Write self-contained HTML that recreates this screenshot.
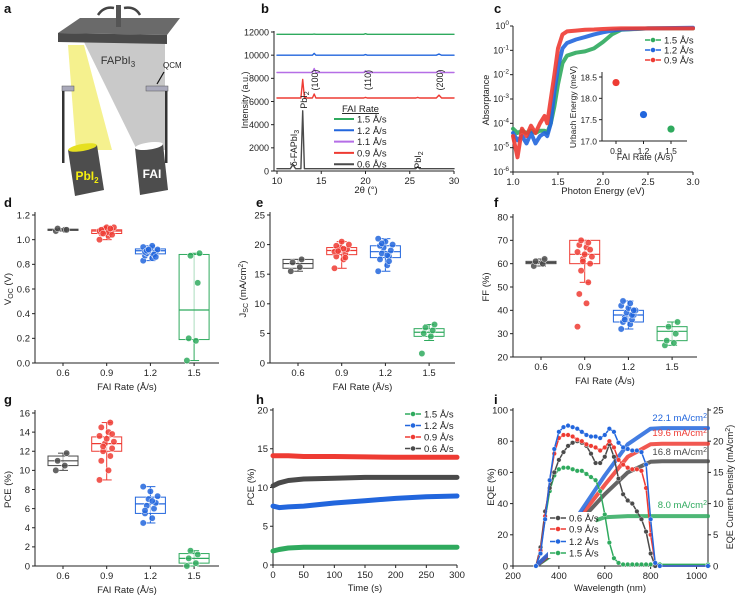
<!DOCTYPE html>
<html><head><meta charset="utf-8"><style>
body{margin:0;background:#fff}
svg{display:block;font-family:"Liberation Sans",sans-serif}
</style></head><body>
<svg id="fig" width="738" height="597" viewBox="0 0 738 597" xmlns="http://www.w3.org/2000/svg">
<g id="panelA">
<polygon points="68,45 84,45 112,150 76,150" fill="#f3ee7a" opacity="0.85"/>
<polygon points="84,42 165,42 165,150 137,150" fill="#bcbcbc" opacity="0.8"/>
<polygon points="80,18 180,18 167,35 58,33" fill="#6a6a6a"/>
<polygon points="58,33 167,35 167,44 58,42" fill="#4a4a4a"/>
<rect x="116" y="5" width="5" height="22" fill="#555"/>
<path d="M98,15 Q104,6 114,8" fill="none" stroke="#444" stroke-width="2.5"/>
<path d="M124,8 Q135,6 140,15" fill="none" stroke="#444" stroke-width="2.5"/>
<text x="118" y="64" font-size="11" text-anchor="middle" fill="#333">FAPbI<tspan font-size="8" dy="3">3</tspan></text>
<text x="163" y="68" font-size="8" fill="#222">QCM</text>
<line x1="164" y1="72" x2="157" y2="84" stroke="#111" stroke-width="1.2"/>
<rect x="62" y="86" width="12" height="5" fill="#aab" stroke="#555" stroke-width="0.5"/>
<rect x="62" y="91" width="2.5" height="72" fill="#333"/>
<rect x="146" y="86" width="22" height="5" fill="#aab" stroke="#555" stroke-width="0.5"/>
<rect x="165" y="91" width="2.5" height="72" fill="#333"/>
<polygon points="68,150 97,145 104,190 75,196" fill="#4d4d4d"/>
<ellipse cx="82.5" cy="147.5" rx="14.5" ry="3.5" fill="#e6e020" transform="rotate(-10 82.5 147.5)"/>
<text x="87" y="180" font-size="12" font-weight="bold" fill="#f5ee10" text-anchor="middle">PbI<tspan font-size="8" dy="3">2</tspan></text>
<polygon points="135,148 163,144 168,190 140,195" fill="#4d4d4d"/>
<ellipse cx="149" cy="146" rx="14" ry="3.5" fill="#fff" transform="rotate(-8 149 146)"/>
<text x="152" y="178" font-size="12" font-weight="bold" fill="#fff" text-anchor="middle">FAI</text>
</g>
</svg>
<script>
const SVG='http://www.w3.org/2000/svg';
const fig=document.getElementById('fig');
function mk(tag,attrs,parent){const e=document.createElementNS(SVG,tag);for(const k in attrs)e.setAttribute(k,attrs[k]);(parent||fig).appendChild(e);return e;}
function lin(d0,d1,r0,r1){return v=>r0+(v-d0)*(r1-r0)/(d1-d0);}
function logs(d0,d1,r0,r1){return v=>r0+(Math.log10(v)-d0)*(r1-r0)/(d1-d0);}
function txt(x,y,s,size,anchor,fill,rot,parent){const t=mk('text',{x:x,y:y,'font-size':size||9.5,'text-anchor':anchor||'middle',fill:fill||'#222'},parent);if(rot)t.setAttribute('transform','rotate(-90 '+x+' '+y+')');t.innerHTML=s;return t;}

/* ===== DATA ===== */
const C={k:'#4a4a4a',r:'#ee3b33',b:'#2266dd',g:'#2faa5e',p:'#b56ee6'};
// b: XRD
const xrdX=[10,11.5,11.8,12.1,12.7,12.9,13.1,13.4,14.0,14.2,14.4,19.8,20.0,20.2,25.7,25.9,26.1,28.0,28.3,28.6,30];
const xrdK=[200,200,550,200,200,5200,200,200,200,200,200,200,200,200,200,380,200,200,200,200,200];
const xrdR=[6300,6300,6300,6300,6300,7900,6350,6300,6300,6650,6300,6300,6350,6300,6300,6350,6300,6300,6550,6300,6300];
const xrdP=[8500,8500,8500,8500,8500,8500,8500,8500,8500,8850,8500,8500,8650,8500,8500,8500,8500,8500,8650,8500,8500];
const xrdB=[10000,10000,10000,10000,10000,10000,10000,10000,10000,10150,10000,10000,10050,10000,10000,10000,10000,10000,10100,10000,10000];
const xrdG=[11800,11800,11800,11800,11800,11800,11800,11800,11800,11820,11800,11800,11850,11800,11800,11800,11800,11800,11800,11800,11800];
const xrdYTicks=[0,2000,4000,6000,8000,10000,12000];
const xrdXTicks=[10,15,20,25,30];
// c: absorptance
const absX=[1.0,1.05,1.1,1.15,1.2,1.25,1.3,1.35,1.38,1.42,1.46,1.5,1.55,1.6,1.7,1.8,1.9,2.0,2.1,2.2,2.5,3.0];
const absR=[3e-5,4e-6,6e-5,3e-5,8e-5,4e-5,1e-4,2e-4,1e-4,1e-3,1e-2,0.12,0.45,0.6,0.65,0.7,0.72,0.75,0.78,0.8,0.8,0.8];
const absB=[4e-5,2e-5,3e-5,1.5e-5,4e-5,1.5e-5,3e-5,4e-5,3e-5,1e-4,2e-3,2e-2,0.12,0.2,0.28,0.35,0.45,0.55,0.65,0.72,0.8,0.85];
const absG=[6e-5,4e-5,5e-5,4e-5,5e-5,4e-5,5e-5,5e-5,4e-5,1e-4,5e-4,4e-3,0.03,0.06,0.08,0.09,0.12,0.22,0.45,0.7,0.8,0.8];
const absYTicks=[0,-1,-2,-3,-4,-5,-6];
const absXTicks=[1.0,1.5,2.0,2.5,3.0];
const urbRate=[0.9,1.2,1.5];
const urbE=[18.37,17.62,17.28];
// d-g box plots
const rates=['0.6','0.9','1.2','1.5'];
const vocPts=[[1.07,1.08,1.09,1.08],[1.0,1.03,1.05,1.06,1.07,1.08,1.09,1.1,1.1,1.07,1.06,1.08,1.09,1.05,1.04],[0.83,0.85,0.87,0.88,0.89,0.9,0.91,0.92,0.93,0.94,0.95,0.9,0.88,0.91,0.86,0.92],[0.02,0.18,0.2,0.65,0.87,0.89]];
const vocQ1=[1.075,1.05,0.885,0.19],vocMed=[1.08,1.07,0.91,0.43],vocQ3=[1.085,1.08,0.925,0.88],vocLo=[1.07,1.0,0.83,0.02],vocHi=[1.09,1.1,0.95,0.89];
const jscPts=[[15.5,16.2,17,17.5],[16,17.5,18,18.5,19,19.2,19.5,20,20.5,18.8,19.3,19.8,17.8,18.9],[15.5,16.5,17.5,18,18.5,19,19.5,20,20.5,21,18.2,19.8,17.2,20.2],[1.6,4.5,5,5.5,6,6.5]];
const jscQ1=[16,18.3,17.8,4.5],jscMed=[16.8,19,18.8,5.2],jscQ3=[17.5,19.5,19.8,5.8],jscLo=[15.5,16,15.5,3.8],jscHi=[17.5,20.5,21,6.5];
const ffPts=[[59,60,61,62],[33,43,47,52,57,60,62,63,64,65,67,68,69,70,66,61],[32,34,35,36,37,38,39,40,41,42,43,44,38,36,40],[25,26,27,30,33,35]];
const ffQ1=[60,60,35,27],ffMed=[60.5,64,38,31],ffQ3=[61,70,40,33],ffLo=[59,52,32,25],ffHi=[62,70,44,35];
const pcePts=[[10,10.5,11,11.8],[9,10,11,11.5,12,12.3,12.8,13,13.3,13.6,14,14.5,15,12.5,13.8],[4.5,5,5.5,6,6.3,6.6,7,7.3,7.8,8.3,6.8,5.8],[0,0.3,0.8,1.2,1.6]];
const pceQ1=[10.5,12,5.5,0.3],pceMed=[11,12.8,6.5,0.8],pceQ3=[11.5,13.5,7.2,1.3],pceLo=[10,9,4.5,0],pceHi=[11.8,15,8.3,1.6];
// h: PCE vs time
const tT=[0,10,25,50,100,150,200,250,300];
const tG=[1.8,2.0,2.2,2.3,2.3,2.3,2.3,2.3,2.3];
const tB=[7.6,7.4,7.5,7.6,8.0,8.3,8.6,8.8,8.9];
const tR=[14.1,14.1,14.1,14.0,14.0,13.95,13.9,13.9,13.9];
const tK=[10.2,10.6,10.9,11.1,11.2,11.3,11.3,11.3,11.3];
// i: EQE
const wl=[300,320,340,360,380,400,420,440,460,480,500,520,540,560,580,600,620,640,660,680,700,720,740,760,780,800,820,840,1050];
const eqeB=[0,8,30,55,75,86,89,90,89,88,86,84,83,83,82,84,88,86,79,76,75,74,74,73,65,30,2,0,0];
const eqeR=[0,10,32,55,72,82,84,84,83,81,80,78,77,76,74,76,80,76,68,65,63,62,62,61,50,20,2,0,0];
const eqeK=[0,12,35,50,60,68,73,77,79,80,79,77,72,66,66,70,78,70,56,46,42,40,35,30,22,8,0,0,0];
const eqeG=[0,10,30,48,58,62,63,63,62,61,61,59,57,55,48,33,15,5,2,1,1,1,1,1,1,1,1,1,1];
const jW=[300,400,500,600,700,800,850,1050];
const jB=[0,3.5,9,14.5,19.5,22,22.1,22.1];
const jR=[0,3.2,8.2,13,17.5,19.5,19.6,19.6];
const jK=[0,2.8,7.5,11.5,15,16.7,16.8,16.8];
const jG=[0,2.5,6.5,7.8,8,8,8,8];
const jLabels=['22.1','19.6','16.8','8.0'];

/* ===== helpers ===== */
function axes(x0,x1,y0,y1,name){const g=mk('g',{});


mk('path',{d:'M'+x0+','+y0+'V'+y1+'H'+x1,fill:'none',stroke:'#222','stroke-width':1},g);return g;}
function yT(g,x0,vals,sc,labels,size){vals.forEach((v,i)=>{const y=sc(v);mk('line',{x1:x0-3,x2:x0,y1:y,y2:y,stroke:'#222'},g);const t=txt(x0-5,y+3.3,labels?labels[i]:v,size||9.5,'end','#222',0,g);

});}
function xT(g,y0,vals,sc,labels,size){vals.forEach((v,i)=>{const x=sc(v);mk('line',{x1:x,x2:x,y1:y0,y2:y0+3,stroke:'#222'},g);const t=txt(x,y0+13,labels?labels[i]:v,size||9.5,'middle','#222',0,g);

});}
function line(xs,ys,sx,sy,col,w,name,op){const d=xs.map((x,i)=>(i?'L':'M')+sx(x).toFixed(1)+','+sy(ys[i]).toFixed(1)).join('');const p=mk('path',{d:d,fill:'none',stroke:col,'stroke-width':w,'stroke-linejoin':'round','stroke-linecap':'round',opacity:op||1});

return p;}
function letter(x,y,s){const t=txt(x,y,s,13,'start','#111');t.setAttribute('font-weight','bold');

}
function legendEntry(x,y,col,label,name){const g=mk('g',{});


mk('line',{x1:x,x2:x+16,y1:y,y2:y,stroke:col,'stroke-width':1.5},g);mk('circle',{cx:x+8,cy:y,r:2.6,fill:col,stroke:'#fff','stroke-width':0.6},g);txt(x+19,y+3.5,label,9.5,'start','#222',0,g);}

/* ===== panel letters ===== */
letter(4,13,'a');letter(261,13,'b');letter(494,13,'c');letter(4,207,'d');letter(256,207,'e');letter(494,207,'f');letter(4,404,'g');letter(256,404,'h');letter(494,404,'i');

/* ===== b ===== */
{const sx=lin(10,30,277,454),sy=lin(0,12000,171,32);const g=axes(274,454,31,171,'panel-b-axes');
yT(g,274,xrdYTicks,sy,null,9);xT(g,171,xrdXTicks,sx);
txt(366,193,'2θ (°)',9.5,'middle','#222',0,g);txt(248,100,'Intensity (a.u.)',9,'middle','#222',1,g);
line(xrdX,xrdG,sx,sy,C.g,1.4,'xrd-1.5');line(xrdX,xrdB,sx,sy,C.b,1.4,'xrd-1.2');line(xrdX,xrdP,sx,sy,C.p,1.4,'xrd-1.1');line(xrdX,xrdR,sx,sy,C.r,1.4,'xrd-0.9');line(xrdX,xrdK,sx,sy,C.k,1.4,'xrd-0.6');
txt(318,80,'(100)',9,'middle','#222',1);txt(371,80,'(110)',9,'middle','#222',1);txt(443,80,'(200)',9,'middle','#222',1);
txt(307,100,'PbI<tspan font-size="7" dy="2">2</tspan>',9,'middle','#222',1);
txt(297,148,'δ-FAPbI<tspan font-size="7" dy="2">3</tspan>',9,'middle','#222',1);
txt(421,160,'PbI<tspan font-size="7" dy="2">2</tspan>',9,'middle','#222',1);
const lt=txt(342,112,'FAI Rate',9.5,'start','#222');lt.setAttribute('text-decoration','underline');
[['1.5 Å/s',C.g],['1.2 Å/s',C.b],['1.1 Å/s',C.p],['0.9 Å/s',C.r],['0.6 Å/s',C.k]].forEach((e,i)=>{const y=119+i*11.3;const gg=mk('g',{});


mk('line',{x1:334,x2:354,y1:y,y2:y,stroke:e[1],'stroke-width':2},gg);txt(357,y+3.5,e[0],9.5,'start','#222',0,gg);});}

/* ===== c ===== */
{const sx=lin(1,3,513,693),sy=logs(0,-6,26,172);const g=axes(513,693,26,172,'panel-c-axes');
absYTicks.forEach(v=>{const y=sy(Math.pow(10,v));mk('line',{x1:510,x2:513,y1:y,y2:y,stroke:'#222'},g);txt(509,y+3,'10<tspan font-size="6.5" dy="-4">'+v+'</tspan>',9,'end','#222',0,g);});
xT(g,172,absXTicks,sx,['1.0','1.5','2.0','2.5','3.0']);
txt(603,194,'Photon Energy (eV)',9.5,'middle','#222',0,g);txt(489,100,'Absorptance',9,'middle','#222',1,g);
line(absX,absG,sx,sy,C.g,4,'abs-1.5',0.9);line(absX,absB,sx,sy,C.b,4,'abs-1.2',0.9);line(absX,absR,sx,sy,C.r,4,'abs-0.9',0.9);
legendEntry(645,40,C.g,'1.5 Å/s','legend-c-1.5');legendEntry(645,50,C.b,'1.2 Å/s','legend-c-1.2');legendEntry(645,60,C.r,'0.9 Å/s','legend-c-0.9');
const ix=lin(0.9,1.5,616,671),iy=lin(17,18.5,141,77);const ig=mk('g',{});


mk('rect',{x:568,y:70,width:121,height:95,fill:'#fff'},ig);
mk('path',{d:'M602,72V141H687',fill:'none',stroke:'#222'},ig);
yT(ig,602,[17,17.5,18,18.5],iy,['17.0','17.5','18.0','18.5'],8.5);xT(ig,141,urbRate,ix,['0.9','1.2','1.5'],8.5);
txt(645,160,'FAI Rate (Å/s)',9,'middle','#222',0,ig);txt(576,107,'Urbach Energy (meV)',8.5,'middle','#222',1,ig);
const uc=[C.r,C.b,C.g];urbRate.forEach((r,i)=>{const c=mk('circle',{cx:ix(r),cy:iy(urbE[i]),r:3.6,fill:uc[i]},ig);

});}

/* ===== box plots ===== */
const cols=[C.k,C.r,C.b,C.g];
function boxPanel(x0,x1,yTop,yBot,d0,d1,ticks,tickLab,pts,q1,med,q3,lo,hi,ylab,name){
const sy=lin(d0,d1,yBot,yTop);const g=axes(x0,x1,yTop-3,yBot,name);
yT(g,x0,ticks,sy,tickLab);
const cx=i=>x0+28+i*43.7;
rates.forEach((r,i)=>{const x=cx(i);mk('line',{x1:x,x2:x,y1:yBot,y2:yBot+3,stroke:'#222'},g);txt(x,yBot+13,r,9.5,'middle','#222',0,g);});
txt((x0+x1)/2,yBot+27,'FAI Rate (Å/s)',9.5,'middle','#222',0,g);
txt(x0-24,(yTop+yBot)/2,ylab,9.5,'middle','#222',1,g);
rates.forEach((r,i)=>{const x=cx(i),c=cols[i];const bg=mk('g',{});


mk('line',{x1:x,x2:x,y1:sy(lo[i]),y2:sy(hi[i]),stroke:c,'stroke-width':1},bg);
mk('line',{x1:x-5,x2:x+5,y1:sy(lo[i]),y2:sy(lo[i]),stroke:c},bg);mk('line',{x1:x-5,x2:x+5,y1:sy(hi[i]),y2:sy(hi[i]),stroke:c},bg);
mk('rect',{x:x-15,y:sy(q3[i]),width:30,height:Math.max(1,sy(q1[i])-sy(q3[i])),fill:'#fff','fill-opacity':0.6,stroke:c,'stroke-width':1},bg);
mk('line',{x1:x-15,x2:x+15,y1:sy(med[i]),y2:sy(med[i]),stroke:c,'stroke-width':1.2},bg);
pts[i].forEach((v,j)=>{const dx=((j*5)%9-4)*1.8;const p=mk('circle',{cx:x+dx,cy:sy(v),r:3.2,fill:c,'fill-opacity':0.85,stroke:'#fff','stroke-width':0.5},bg);

});});}
boxPanel(35,219,215,363,0,1.2,[0,0.2,0.4,0.6,0.8,1.0,1.2],['0.0','0.2','0.4','0.6','0.8','1.0','1.2'],vocPts,vocQ1,vocMed,vocQ3,vocLo,vocHi,'V<tspan font-size="7" dy="2">OC</tspan><tspan dy="-2"> (V)</tspan>','panel-d-voc');
boxPanel(270,455,215,363,0,25,[0,5,10,15,20,25],null,jscPts,jscQ1,jscMed,jscQ3,jscLo,jscHi,'J<tspan font-size="7" dy="2">SC</tspan><tspan dy="-2"> (mA/cm</tspan><tspan font-size="7" dy="-3">2</tspan><tspan dy="3">)</tspan>','panel-e-jsc');
boxPanel(513,697,217,357,20,80,[20,30,40,50,60,70,80],null,ffPts,ffQ1,ffMed,ffQ3,ffLo,ffHi,'FF (%)','panel-f-ff');
boxPanel(35,219,413,566,0,16,[0,2,4,6,8,10,12,14,16],null,pcePts,pceQ1,pceMed,pceQ3,pceLo,pceHi,'PCE (%)','panel-g-pce');

/* ===== h ===== */
{const sx=lin(0,300,273,457),sy=lin(0,20,565,410);const g=axes(273,457,408,565,'panel-h-axes');
yT(g,273,[0,5,10,15,20],sy);xT(g,565,[0,50,100,150,200,250,300],sx);
txt(365,591,'Time (s)',9.5,'middle','#222',0,g);txt(254,487,'PCE (%)',9.5,'middle','#222',1,g);
line(tT,tG,sx,sy,C.g,5,'pce-time-1.5');line(tT,tB,sx,sy,C.b,5,'pce-time-1.2');line(tT,tR,sx,sy,C.r,5,'pce-time-0.9');line(tT,tK,sx,sy,C.k,5,'pce-time-0.6');
legendEntry(405,414,C.g,'1.5 Å/s','legend-h-1.5');legendEntry(405,425.5,C.b,'1.2 Å/s','legend-h-1.2');legendEntry(405,437,C.r,'0.9 Å/s','legend-h-0.9');legendEntry(405,448.5,C.k,'0.6 Å/s','legend-h-0.6');}

/* ===== i ===== */
{const sx=lin(200,1050,513,708),sy=lin(0,100,566,410),sj=lin(0,25,566,410);const g=axes(513,708,408,566,'panel-i-axes');
mk('line',{x1:708,x2:708,y1:408,y2:566,stroke:'#222'},g);
yT(g,513,[0,20,40,60,80,100],sy);xT(g,566,[200,400,600,800,1000],sx);
[0,5,10,15,20,25].forEach(v=>{const y=sj(v);mk('line',{x1:708,x2:711,y1:y,y2:y,stroke:'#222'},g);txt(713,y+3.3,v,9.5,'start','#222',0,g);});
txt(610,591,'Wavelength (nm)',9.5,'middle','#222',0,g);txt(494,487,'EQE (%)',9.5,'middle','#222',1,g);
txt(733,487,'EQE Current Density (mA/cm<tspan font-size="7" dy="-3">2</tspan><tspan dy="3">)</tspan>',9,'middle','#222',1,g);
line(jW,jG,sx,sj,C.g,4,'jsc-cum-1.5',0.85);line(jW,jK,sx,sj,C.k,4,'jsc-cum-0.6',0.85);line(jW,jR,sx,sj,C.r,4,'jsc-cum-0.9',0.85);line(jW,jB,sx,sj,C.b,4,'jsc-cum-1.2',0.85);
const ec=[[eqeG,C.g,'1.5'],[eqeK,C.k,'0.6'],[eqeR,C.r,'0.9'],[eqeB,C.b,'1.2']];
ec.forEach(e=>{line(wl,e[0],sx,sy,e[1],1.5,'eqe-'+e[2]);wl.forEach((w,i)=>{const c=mk('circle',{cx:sx(w),cy:sy(e[0][i]),r:2.3,fill:e[1],stroke:'#fff','stroke-width':0.4});

});});
const jl=[[jB,C.b,421],[jR,C.r,436],[jK,C.k,455],[jG,C.g,508]];
jl.forEach((e,i)=>{const t=txt(707,e[2],jLabels[i]+' mA/cm<tspan font-size="7" dy="-3">2</tspan>',9.5,'end',e[1]);

});
mk('rect',{x:548,y:512,width:48,height:46,fill:'#fff'});
legendEntry(550,518,C.k,'0.6 Å/s','legend-i-0.6');legendEntry(550,529,C.r,'0.9 Å/s','legend-i-0.9');legendEntry(550,541.5,C.b,'1.2 Å/s','legend-i-1.2');legendEntry(550,553,C.g,'1.5 Å/s','legend-i-1.5');}
</script>
</body></html>
